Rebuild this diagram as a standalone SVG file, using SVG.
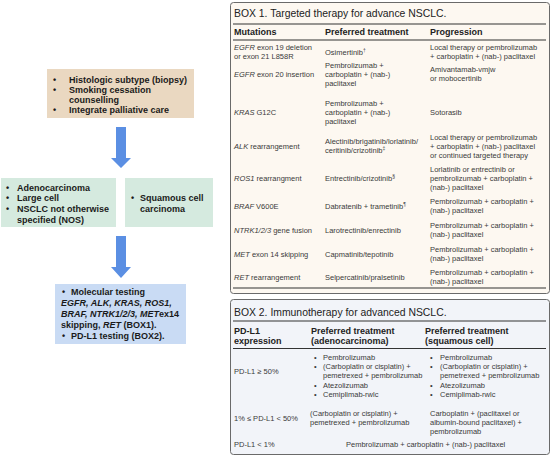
<svg xmlns="http://www.w3.org/2000/svg" width="553" height="457" viewBox="0 0 553 457">
<style>
text{font-family:"Liberation Sans",Arial,sans-serif}
.lb{font-size:9px;font-weight:bold;fill:#1a1a1a}
.t{font-size:10.4px;fill:#222}
.h{font-size:9px;font-weight:bold;fill:#222}
.b{font-size:7.5px;fill:#3a3a3a}
.i{font-style:italic}
.sup{font-size:5px}
.rule{stroke:#333;stroke-width:1.2}
.arrow{fill:#5b8fe3}
</style>
<g id="connectors">
<path class="arrow" d="M116,127 H126 V158 H131 L121,168 L111,158 H116 Z"/>
<path class="arrow" d="M116,236 H126 V267 H131 L121,278 L111,267 H116 Z"/>
</g>
<g id="node-initial">
<rect x="47" y="69" width="147" height="49" fill="#ead8c1"/>
<text class="lb" x="53" y="82.5">•</text><text class="lb" x="69" y="82.5">Histologic subtype (biopsy)</text>
<text class="lb" x="53" y="92.8">•</text><text class="lb" x="69" y="92.8">Smoking cessation</text>
<text class="lb" x="69" y="103">counselling</text>
<text class="lb" x="53" y="113.3">•</text><text class="lb" x="69" y="113.3">Integrate palliative care</text>
</g>
<g id="node-nonsquamous">
<rect x="1" y="178" width="115" height="49" fill="#d5eadf"/>
<text class="lb" x="6" y="190.5">•</text><text class="lb" x="17" y="190.5">Adenocarcinoma</text>
<text class="lb" x="6" y="201.2">•</text><text class="lb" x="17" y="201.2">Large cell</text>
<text class="lb" x="6" y="211.9">•</text><text class="lb" x="17" y="211.9">NSCLC not otherwise</text>
<text class="lb" x="17" y="222.6">specified (NOS)</text>
</g>
<g id="node-squamous">
<rect x="125" y="178" width="88" height="49" fill="#d5eadf"/>
<text class="lb" x="131" y="201.2">•</text><text class="lb" x="140" y="201.2">Squamous cell</text>
<text class="lb" x="140" y="211.9">carcinoma</text>
</g>
<g id="node-testing">
<rect x="55" y="284" width="131" height="60" fill="#c9dbf4"/>
<text class="lb" x="62" y="295.2">•</text><text class="lb" x="71" y="295.2">Molecular testing</text>
<text class="lb" x="61" y="306.2"><tspan class="i">EGFR, ALK, KRAS, ROS1,</tspan></text>
<text class="lb" x="61" y="317.2"><tspan class="i">BRAF, NTRK1/2/3, MET</tspan>ex14</text>
<text class="lb" x="61" y="328.2">skipping, <tspan class="i">RET</tspan> (BOX1).</text>
<text class="lb" x="62" y="339.2">•</text><text class="lb" x="71" y="339.2">PD-L1 testing (BOX2).</text>
</g>
<g id="box1">
<rect x="230.5" y="2.5" width="319" height="291" rx="3" fill="#fdf8f1" stroke="#6a6a6a" stroke-width="1"/>
<text class="t" x="234" y="17">BOX 1. Targeted therapy for advance NSCLC.</text>
<line class="rule" x1="233" y1="24" x2="546" y2="24"/>
<text class="h" x="234" y="35.2">Mutations</text>
<text class="h" x="325" y="35.2">Preferred treatment</text>
<text class="h" x="430" y="35.2">Progression</text>
<line class="rule" x1="233" y1="40" x2="546" y2="40"/>

<text class="b" x="234" y="50.2"><tspan class="i">EGFR</tspan> exon 19 deletion</text>
<text class="b" x="234" y="58.9">or exon 21 L858R</text>
<text class="b" x="325" y="54.5">Osimertinib<tspan class="sup" dy="-3">†</tspan></text>
<text class="b" x="430" y="50.2">Local therapy or pembrolizumab</text>
<text class="b" x="430" y="58.9">+ carboplatin + (nab-) paclitaxel</text>

<text class="b" x="234" y="76.7"><tspan class="i">EGFR</tspan> exon 20 insertion</text>
<text class="b" x="325" y="67.7">Pembrolizumab +</text>
<text class="b" x="325" y="76.7">carboplatin + (nab-)</text>
<text class="b" x="325" y="85.7">paclitaxel</text>
<text class="b" x="430" y="72.2">Amivantamab-vmjw</text>
<text class="b" x="430" y="81.2">or mobocertinib</text>

<text class="b" x="234" y="114.7"><tspan class="i">KRAS</tspan> G12C</text>
<text class="b" x="325" y="105.7">Pembrolizumab +</text>
<text class="b" x="325" y="114.7">carboplatin + (nab-)</text>
<text class="b" x="325" y="123.7">paclitaxel</text>
<text class="b" x="430" y="114.7">Sotorasib</text>

<text class="b" x="234" y="148.7"><tspan class="i">ALK</tspan> rearrangement</text>
<text class="b" x="325" y="144.2">Alectinib/brigatinib/lorlatinib/</text>
<text class="b" x="325" y="153.2">ceritinib/crizotinib<tspan class="sup" dy="-3">‡</tspan></text>
<text class="b" x="430" y="139.7">Local therapy or pembrolizumab</text>
<text class="b" x="430" y="148.7">+ carboplatin + (nab-) paclitaxel</text>
<text class="b" x="430" y="157.7">or continued targeted therapy</text>

<text class="b" x="234" y="180.7"><tspan class="i">ROS1</tspan> rearrangment</text>
<text class="b" x="325" y="180.7">Entrectinib/crizotinib<tspan class="sup" dy="-3">§</tspan></text>
<text class="b" x="430" y="171.7">Lorlatinib or entrectinib or</text>
<text class="b" x="430" y="180.7">pembrolizumab + carboplatin +</text>
<text class="b" x="430" y="189.7">(nab-) paclitaxel</text>

<text class="b" x="234" y="208.7"><tspan class="i">BRAF</tspan> V600E</text>
<text class="b" x="325" y="208.7">Dabratenib + trametinib<tspan class="sup" dy="-3">¶</tspan></text>
<text class="b" x="430" y="204.2">Pembrolizumab + carboplatin +</text>
<text class="b" x="430" y="213.2">(nab-) paclitaxel</text>

<text class="b" x="234" y="232.7"><tspan class="i">NTRK1/2/3</tspan> gene fusion</text>
<text class="b" x="325" y="232.7">Larotrectinib/enrectinib</text>
<text class="b" x="430" y="228.2">Pembrolizumab + carboplatin +</text>
<text class="b" x="430" y="237.2">(nab-) paclitaxel</text>

<text class="b" x="234" y="256.7"><tspan class="i">MET</tspan> exon 14 skipping</text>
<text class="b" x="325" y="256.7">Capmatinib/tepotinib</text>
<text class="b" x="430" y="252.2">Pembrolizumab + carboplatin +</text>
<text class="b" x="430" y="261.2">(nab-) paclitaxel</text>

<text class="b" x="234" y="279.7"><tspan class="i">RET</tspan> rearrangement</text>
<text class="b" x="325" y="279.7">Selpercatinib/pralsetinib</text>
<text class="b" x="430" y="275.2">Pembrolizumab + carboplatin +</text>
<text class="b" x="430" y="284.2">(nab-) paclitaxel</text>
<line class="rule" x1="233" y1="288" x2="546" y2="288"/>
</g>
<g id="box2">
<rect x="230.5" y="299.5" width="319" height="155" rx="3" fill="#f2f4f9" stroke="#6a6a6a" stroke-width="1"/>
<text class="t" x="234" y="316">BOX 2. Immunotherapy for advanced NSCLC.</text>
<line class="rule" x1="233" y1="321" x2="546" y2="321"/>
<text class="h" x="234" y="334.2">PD-L1</text>
<text class="h" x="234" y="344.2">expression</text>
<text class="h" x="311" y="334.2">Preferred treatment</text>
<text class="h" x="311" y="344.2">(adenocarcinoma)</text>
<text class="h" x="425" y="334.2">Preferred treatment</text>
<text class="h" x="425" y="344.2">(squamous cell)</text>
<line class="rule" x1="233" y1="348.5" x2="546" y2="348.5"/>

<text class="b" x="234" y="373.7">PD-L1 ≥ 50%</text>
<text class="b" x="314" y="359.7">•</text><text class="b" x="323" y="359.7">Pembrolizumab</text>
<text class="b" x="314" y="369">•</text><text class="b" x="323" y="369">(Carboplatin or cisplatin) +</text>
<text class="b" x="323" y="378.3">pemetrexed + pembrolizumab</text>
<text class="b" x="314" y="387.6">•</text><text class="b" x="323" y="387.6">Atezolizumab</text>
<text class="b" x="314" y="396.9">•</text><text class="b" x="323" y="396.9">Cemiplimab-rwlc</text>
<text class="b" x="430" y="359.7">•</text><text class="b" x="440" y="359.7">Pembrolizumab</text>
<text class="b" x="430" y="369">•</text><text class="b" x="440" y="369">(Carboplatin or cisplatin) +</text>
<text class="b" x="440" y="378.3">pemetrexed + pembrolizumab</text>
<text class="b" x="430" y="387.6">•</text><text class="b" x="440" y="387.6">Atezolizumab</text>
<text class="b" x="430" y="396.9">•</text><text class="b" x="440" y="396.9">Cemiplimab-rwlc</text>

<text class="b" x="234" y="420.7">1% ≤ PD-L1  &lt;  50%</text>
<text class="b" x="310" y="415.7">(Carboplatin or cisplatin) +</text>
<text class="b" x="310" y="424.7">pemetrexed + pembrolizumab</text>
<text class="b" x="430" y="415.7">Carboplatin + (paclitaxel or</text>
<text class="b" x="430" y="424.7">albumin-bound paclitaxel) +</text>
<text class="b" x="430" y="433.7">pembrolizumab</text>

<text class="b" x="234" y="446.7">PD-L1  &lt;  1%</text>
<text class="b" x="346" y="446.7">Pembrolizumab + carboplatin + (nab-) paclitaxel</text>
</g>
</svg>
